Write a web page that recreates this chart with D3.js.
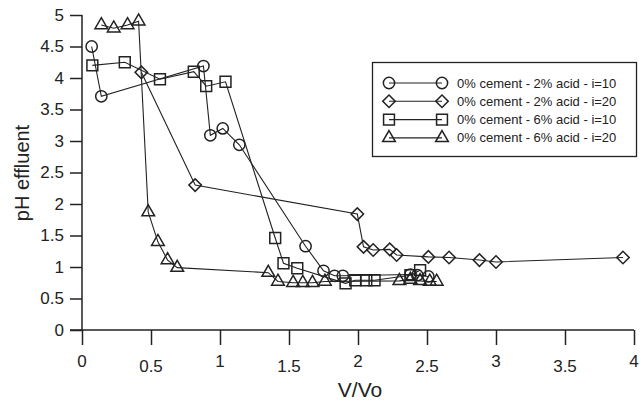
<!DOCTYPE html>
<html>
<head>
<meta charset="utf-8">
<script src="https://cdn.jsdelivr.net/npm/d3@7"></script>
<style>
  body { margin: 0; background: #fff; }
  svg text { font-family: "Liberation Sans", Arial, sans-serif; fill: #222; }
</style>
</head>
<body>
<div id="hook-chart"></div>
<script>
'use strict';

var xTicks = [0, 0.5, 1, 1.5, 2, 2.5, 3, 3.5, 4];
var yTicks = [0, 0.5, 1, 1.5, 2, 2.5, 3, 3.5, 4, 4.5, 5];

var seriesNames = [
  '0% cement - 2% acid - i=10',
  '0% cement - 2% acid - i=20',
  '0% cement - 6% acid - i=10',
  '0% cement - 6% acid - i=20'
];

var circleX = [0.07, 0.14, 0.88, 0.93, 1.02, 1.14, 1.62, 1.75, 1.83, 1.89, 2.38, 2.43, 2.51];
var circleY = [4.5, 3.71, 4.19, 3.09, 3.2, 2.94, 1.33, 0.94, 0.86, 0.86, 0.88, 0.87, 0.85];

var diamondX = [0.43, 0.82, 1.995, 2.04, 2.11, 2.23, 2.28, 2.51, 2.66, 2.88, 3.0, 3.92];
var diamondY = [4.09, 2.3, 1.84, 1.32, 1.27, 1.28, 1.19, 1.16, 1.15, 1.11, 1.08, 1.15];

var squareX = [0.075, 0.31, 0.565, 0.81, 0.9, 1.04, 1.4, 1.46, 1.56, 1.91, 1.98, 2.06, 2.12, 2.38, 2.45];
var squareY = [4.2, 4.25, 3.98, 4.1, 3.87, 3.94, 1.46, 1.06, 0.98, 0.74, 0.79, 0.79, 0.79, 0.87, 0.95];

var triangleX = [0.14, 0.23, 0.33, 0.41, 0.48, 0.55, 0.62, 0.69, 1.35, 1.42, 1.53, 1.6, 1.67, 1.76, 2.3, 2.38, 2.45, 2.52, 2.57];
var triangleY = [4.84, 4.79, 4.84, 4.9, 1.87, 1.4, 1.11, 0.99, 0.91, 0.77, 0.75, 0.75, 0.75, 0.77, 0.78, 0.8, 0.78, 0.77, 0.77];

var ink = '#222';

var options = {
  width: 644,
  height: 405,
  left: 82,
  right: 634,
  top: 15,
  bottom: 330
};

function symbolPath(kind) {
  if (kind === 'circle') return d3.symbol(d3.symbolCircle, 100)();
  if (kind === 'square') return d3.symbol(d3.symbolSquare, 118)();
  if (kind === 'diamond') return d3.symbol(d3.symbolSquare, 78)();
  return d3.symbol(d3.symbolTriangle, 70)();
}

function drawMarker(g, kind, x, y) {
  g.append('path')
    .attr('d', symbolPath(kind))
    .attr('transform', 'translate(' + x + ',' + y + ')' + (kind === 'diamond' ? ' rotate(45)' : ''))
    .style('fill', 'none')
    .style('stroke', ink)
    .style('stroke-width', 1.5);
}

function update(options) {
  var svg = d3.select('#hook-chart')
    .append('svg')
    .attr('width', options.width)
    .attr('height', options.height);

  var x = d3.scaleLinear().domain([0, 4]).range([options.left, options.right]);
  var y = d3.scaleLinear().domain([0, 5]).range([options.bottom, options.top]);

  // x axis, labels drawn by hand because they are staggered
  var xAxis = svg.append('g')
    .attr('transform', 'translate(0,' + options.bottom + ')')
    .call(d3.axisBottom(x).tickValues(xTicks).tickSize(15).tickFormat(''));
  xAxis.select('.domain').remove();
  xAxis.selectAll('line').style('stroke', ink).style('stroke-width', 1.5);
  svg.append('line')
    .attr('x1', options.left - 12).attr('x2', x(4))
    .attr('y1', options.bottom).attr('y2', options.bottom)
    .style('stroke', ink).style('stroke-width', 1.5);

  svg.selectAll('.xlab')
    .data(xTicks)
    .enter().append('text')
    .attr('class', 'xlab')
    .attr('x', function(d) { return x(d); })
    .attr('y', function(d, i) { return i % 2 === 0 ? 367 : 372; })
    .attr('text-anchor', 'middle')
    .style('font-size', '17px')
    .text(function(d) { return d; });

  var yAxis = svg.append('g')
    .attr('transform', 'translate(' + options.left + ',0)')
    .call(d3.axisLeft(y).tickValues(yTicks).tickSize(12).tickPadding(6)
      .tickFormat(function(d) { return String(d); }));
  yAxis.select('.domain').remove();
  yAxis.selectAll('line').style('stroke', ink).style('stroke-width', 1.5);
  yAxis.selectAll('text')
    .style('font-size', '17px')
    .style('font-family', '"Liberation Sans", Arial, sans-serif')
    .attr('fill', ink);
  svg.append('line')
    .attr('x1', options.left).attr('x2', options.left)
    .attr('y1', y(5)).attr('y2', options.bottom)
    .style('stroke', ink).style('stroke-width', 1.5);

  svg.append('text')
    .attr('transform', 'translate(29,173) rotate(-90)')
    .attr('text-anchor', 'middle')
    .style('font-size', '20px')
    .text('pH effluent');

  svg.append('text')
    .attr('x', 360)
    .attr('y', 397)
    .attr('text-anchor', 'middle')
    .style('font-size', '21px')
    .text('V/Vo');

  var series = [
    { kind: 'circle', xs: circleX, ys: circleY },
    { kind: 'diamond', xs: diamondX, ys: diamondY },
    { kind: 'square', xs: squareX, ys: squareY },
    { kind: 'triangle', xs: triangleX, ys: triangleY }
  ];

  var line = d3.line()
    .x(function(d) { return x(d[0]); })
    .y(function(d) { return y(d[1]); });

  series.forEach(function(s) {
    var pts = s.xs.map(function(v, i) { return [v, s.ys[i]]; });
    svg.append('path')
      .attr('d', line(pts))
      .style('fill', 'none')
      .style('stroke', ink)
      .style('stroke-width', 1.1);
    var g = svg.append('g');
    pts.forEach(function(p) {
      drawMarker(g, s.kind, x(p[0]), y(p[1]));
    });
  });

  // legend
  var legend = svg.append('g');
  legend.append('rect')
    .attr('x', 372.5).attr('y', 62.5)
    .attr('width', 264).attr('height', 94)
    .style('fill', '#fff')
    .style('stroke', ink)
    .style('stroke-width', 1.3);

  series.forEach(function(s, i) {
    var ly = 83 + i * 18.3;
    legend.append('line')
      .attr('x1', 389).attr('x2', 442)
      .attr('y1', ly).attr('y2', ly)
      .style('stroke', ink).style('stroke-width', 1.1);
    drawMarker(legend, s.kind, 389, ly);
    drawMarker(legend, s.kind, 442, ly);
    legend.append('text')
      .attr('x', 457)
      .attr('y', ly + 4.5)
      .style('font-size', '13px')
      .text(seriesNames[i]);
  });
}

update(options);
</script>
</body>
</html>
